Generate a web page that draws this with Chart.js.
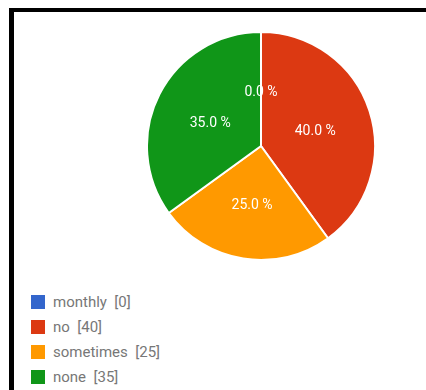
<!DOCTYPE html>
<html>
<head>
<meta charset="utf-8">
<script src="https://cdn.jsdelivr.net/npm/chart.js@4/dist/chart.umd.min.js"></script>
<style>
    html, body { margin: 0; padding: 0; background: #fff; }
    #frame {
        position: relative;
        width: 426px;
        height: 390px;
        overflow: hidden;
        font-family: Roboto, "Noto Sans", sans-serif;
    }
    #frame .top { position: absolute; left: 9px; top: 8px; right: 0; height: 4px; background: #000; }
    #frame .left { position: absolute; left: 9px; top: 8px; bottom: 0; width: 5px; background: #000; }
    #pieWrap { position: absolute; left: 146px; top: 31px; width: 230px; height: 230px; }
    #legend { position: absolute; left: 31px; top: 289px; }
    #legend .item { height: 25px; display: flex; align-items: center; font-size: 15px; color: #777; }
    #legend .box { width: 14px; height: 14px; margin-right: 8px; }
</style>
</head>
<body>
<div id="frame">
    <div class="top"></div>
    <div class="left"></div>
    <div id="pieWrap"><canvas id="pieChart" width="230" height="230"></canvas></div>
    <div id="legend"></div>
</div>
<script>
const answers = ["monthly", "no", "sometimes", "none"];
const counts = [0, 40, 25, 35];
const colors = ["#3366cc", "#dc3912", "#ff9900", "#109618"];

const total = counts.reduce((a, b) => a + b, 0);
const percent = (v) => (v / total * 100).toFixed(1) + " %";

// legend list under the pie
answers.forEach(function(name, i) {
    const item = document.createElement("div");
    item.className = "item";
    item.innerHTML = '<span class="box" style="background:' + colors[i] + '"></span>' +
        name + '&nbsp; [' + counts[i] + ']';
    document.getElementById("legend").appendChild(item);
});

// percentage text in the middle of each slice
const sliceLabels = {
    id: "sliceLabels",
    afterDatasetsDraw(chart) {
        const ctx = chart.ctx;
        const meta = chart.getDatasetMeta(0);
        ctx.save();
        ctx.font = "14px Roboto, 'Noto Sans', sans-serif";
        ctx.fillStyle = "#fff";
        ctx.textAlign = "center";
        ctx.textBaseline = "middle";
        meta.data.forEach(function(arc, i) {
            const pos = arc.tooltipPosition();
            ctx.fillText(percent(counts[i]), pos.x, pos.y + 3);
        });
        ctx.restore();
    }
};

new Chart(document.getElementById("pieChart"), {
    type: "pie",
    data: {
        labels: answers,
        datasets: [{
            data: counts,
            backgroundColor: colors,
            borderColor: "#fff",
            borderWidth: 2
        }]
    },
    options: {
        responsive: false,
        animation: false,
        layout: { padding: 0 },
        plugins: {
            legend: { display: false },
            tooltip: { enabled: false }
        }
    },
    plugins: [sliceLabels]
});
</script>
</body>
</html>
